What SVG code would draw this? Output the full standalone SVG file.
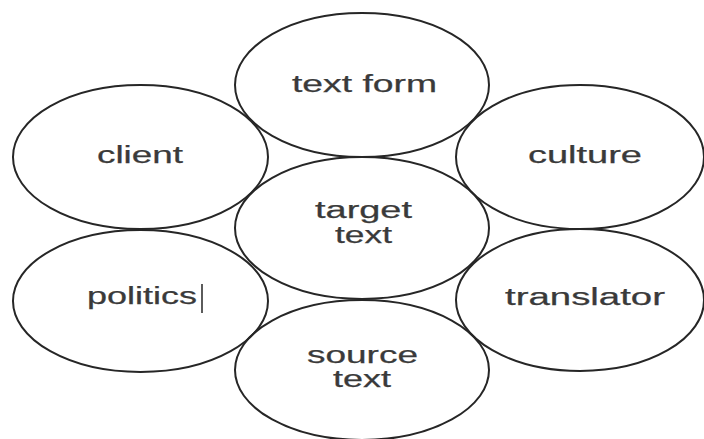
<svg xmlns="http://www.w3.org/2000/svg" width="704" height="439" viewBox="0 0 704 439">
  <style>
    .bubble { fill: none; stroke: #262626; stroke-width: 2; }
    .label { font-family: "Liberation Sans", Arial, sans-serif; font-size: 23px; fill: #3a3a3a; stroke: #3a3a3a; stroke-width: 0.25; }
    .cursor { stroke: #333333; stroke-width: 1.6; }
  </style>
  <rect width="704" height="439" fill="#ffffff"/>

  <g id="text-form">
    <ellipse class="bubble" cx="362" cy="85" rx="127" ry="72"/>
    <text class="label" x="292" y="92" textLength="145" lengthAdjust="spacingAndGlyphs">text form</text>
  </g>

  <g id="client">
    <ellipse class="bubble" cx="140.5" cy="157" rx="127.5" ry="72"/>
    <text class="label" x="97" y="163" textLength="86" lengthAdjust="spacingAndGlyphs">client</text>
  </g>

  <g id="culture">
    <ellipse class="bubble" cx="580" cy="157" rx="124" ry="72"/>
    <text class="label" x="528" y="163" textLength="114" lengthAdjust="spacingAndGlyphs">culture</text>
  </g>

  <g id="target-text">
    <ellipse class="bubble" cx="362" cy="228" rx="127" ry="71"/>
    <text class="label" x="315" y="218" textLength="97" lengthAdjust="spacingAndGlyphs">target</text>
    <text class="label" x="335" y="243" textLength="57" lengthAdjust="spacingAndGlyphs">text</text>
  </g>

  <g id="politics">
    <ellipse class="bubble" cx="140.5" cy="301" rx="127.5" ry="71"/>
    <text class="label" x="87" y="304" textLength="110" lengthAdjust="spacingAndGlyphs">politics</text>
    <line class="cursor" x1="202" y1="284" x2="202" y2="313"/>
  </g>

  <g id="translator">
    <ellipse class="bubble" cx="580" cy="300" rx="124" ry="71"/>
    <text class="label" x="505" y="305" textLength="160" lengthAdjust="spacingAndGlyphs">translator</text>
  </g>

  <g id="source-text">
    <ellipse class="bubble" cx="362" cy="370" rx="127" ry="70"/>
    <text class="label" x="307" y="363" textLength="111" lengthAdjust="spacingAndGlyphs">source</text>
    <text class="label" x="333" y="387" textLength="58" lengthAdjust="spacingAndGlyphs">text</text>
  </g>

  <g id="connectors"/>
</svg>
